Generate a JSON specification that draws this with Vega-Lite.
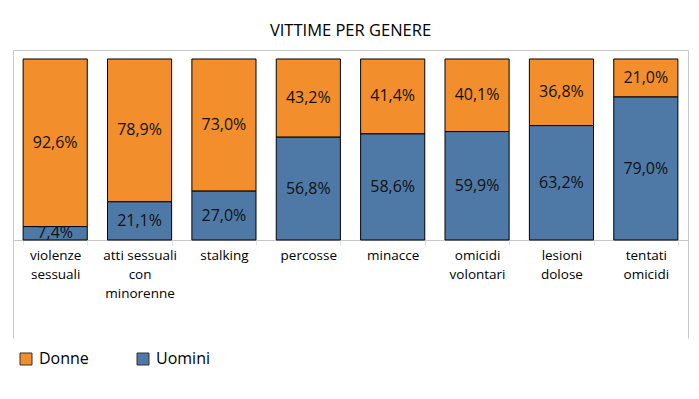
{
  "$schema": "https://vega.github.io/schema/vega-lite/v6.json",
  "width": 675,
  "height": 288,
  "autosize": {"type": "none"},
  "padding": {"left": 13, "top": 50, "right": 11, "bottom": 61},
  "config": {
    "view": {"stroke": null},
    "font": "Open Sans",
    "locale": {"number": {"decimal": ",", "thousands": ".", "grouping": [3], "currency": ["", " €"]}}
  },
  "title": {"text": "VITTIME PER GENERE", "fontSize": 16.5, "fontWeight": "normal", "color": "#000", "offset": 11, "anchor": "middle", "font": "Open Sans"},
  "data": {"values": [
    {"categoria": "violenze|sessuali", "genere": "Donne", "quota": 0.926},
    {"categoria": "violenze|sessuali", "genere": "Uomini", "quota": 0.074},
    {"categoria": "atti sessuali|con|minorenne", "genere": "Donne", "quota": 0.789},
    {"categoria": "atti sessuali|con|minorenne", "genere": "Uomini", "quota": 0.211},
    {"categoria": "stalking", "genere": "Donne", "quota": 0.730},
    {"categoria": "stalking", "genere": "Uomini", "quota": 0.270},
    {"categoria": "percosse", "genere": "Donne", "quota": 0.432},
    {"categoria": "percosse", "genere": "Uomini", "quota": 0.568},
    {"categoria": "minacce", "genere": "Donne", "quota": 0.414},
    {"categoria": "minacce", "genere": "Uomini", "quota": 0.586},
    {"categoria": "omicidi|volontari", "genere": "Donne", "quota": 0.401},
    {"categoria": "omicidi|volontari", "genere": "Uomini", "quota": 0.599},
    {"categoria": "lesioni|dolose", "genere": "Donne", "quota": 0.368},
    {"categoria": "lesioni|dolose", "genere": "Uomini", "quota": 0.632},
    {"categoria": "tentati|omicidi", "genere": "Donne", "quota": 0.210},
    {"categoria": "tentati|omicidi", "genere": "Uomini", "quota": 0.790}
  ]},
  "layer": [
    {
      "mark": {"type": "bar", "stroke": "#000", "strokeWidth": 1},
      "encoding": {
        "x": {"field": "categoria", "type": "nominal", "sort": null,
              "scale": {"paddingInner": 0.24, "paddingOuter": 0.12},
              "axis": {"orient": "bottom", "offset": -98, "domainColor": "#c8c8c8", "tickColor": "#e4e4e4", "tickSize": 5, "tickBand": "extent",
                       "labelAngle": 0, "labelExpr": "split(datum.label, '|')", "labelFontSize": 13.5, "labelColor": "#000", "labelPadding": 3,
                       "labelLineHeight": 19, "labelFont": "Open Sans", "title": null}},
        "y": {"field": "quota", "type": "quantitative", "stack": "zero",
              "scale": {"domain": [-0.5414, 1.0497], "nice": false, "zero": false},
              "axis": {"orient": "left", "domain": true, "domainColor": "#c8c8c8", "ticks": false, "labels": false, "grid": false, "title": null}},
        "color": {"field": "genere", "type": "nominal",
                  "scale": {"domain": ["Donne", "Uomini"], "range": ["#F28E2B", "#4E79A7"]},
                  "legend": {"orient": "none", "legendX": 5, "legendY": 301, "direction": "horizontal", "title": null,
                             "symbolType": "square", "symbolSize": 144, "symbolStrokeColor": "#333", "symbolStrokeWidth": 1,
                             "labelFontSize": 16, "labelFont": "Open Sans", "labelColor": "#000", "columnPadding": 46, "labelOffset": 5}},
        "order": {"field": "genere", "sort": "descending"}
      }
    },
    {
      "mark": {"type": "text", "fontSize": 16, "font": "Open Sans", "color": "#111", "baseline": "middle"},
      "encoding": {
        "x": {"field": "categoria", "type": "nominal", "sort": null,
              "axis": {"orient": "top", "domain": true, "domainColor": "#c8c8c8", "ticks": false, "labels": false, "title": null}},
        "y": {"field": "quota", "type": "quantitative", "stack": "zero", "bandPosition": 0.5,
              "axis": {"orient": "right", "domain": true, "domainColor": "#c8c8c8", "ticks": false, "labels": false, "grid": false, "title": null}},
        "detail": {"field": "genere"},
        "order": {"field": "genere", "sort": "descending"},
        "text": {"field": "quota", "type": "quantitative", "format": ".1%"}
      }
    }
  ],
  "resolve": {"axis": {"x": "independent", "y": "independent"}}
}
